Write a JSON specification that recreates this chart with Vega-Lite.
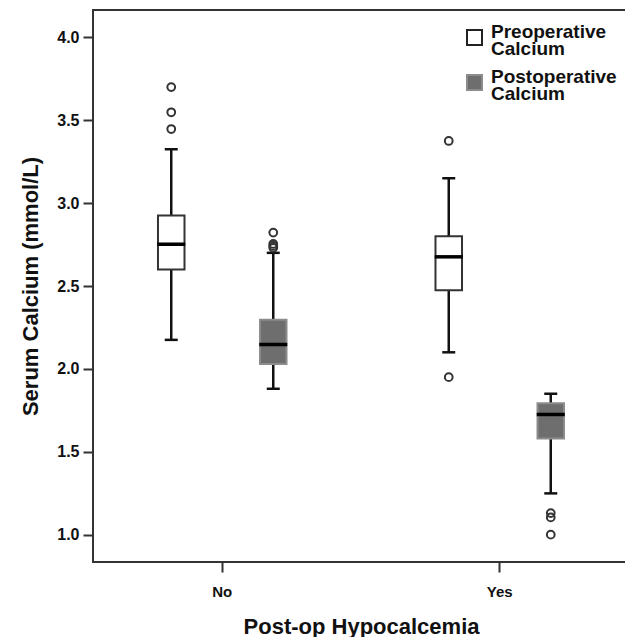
{
  "$schema": "https://vega.github.io/schema/vega-lite/v6.json",
  "autosize": {"type": "none"},
  "padding": {"left": 93, "top": 10, "right": 0, "bottom": 75},
  "width": 536,
  "height": 552,
  "background": "white",
  "config": {
    "font": "Liberation Sans",
    "view": {"stroke": "#333333", "strokeWidth": 2},
    "axis": {"labelFont": "Liberation Sans", "titleFont": "Liberation Sans", "labelFontWeight": "bold", "titleFontWeight": "bold", "labelColor": "#111", "titleColor": "#111", "grid": false, "domain": false, "tickColor": "#333", "tickWidth": 2, "tickSize": 10},
    "legend": {"labelFont": "Liberation Sans", "labelFontWeight": "bold"}
  },
  "datasets": {
    "boxes": [
      {"group": "No", "type": "Preoperative Calcium", "lower": 2.175, "q1": 2.6, "median": 2.752, "q3": 2.925, "upper": 3.325},
      {"group": "No", "type": "Postoperative Calcium", "lower": 1.88, "q1": 2.03, "median": 2.147, "q3": 2.296, "upper": 2.7},
      {"group": "Yes", "type": "Preoperative Calcium", "lower": 2.1, "q1": 2.475, "median": 2.676, "q3": 2.8, "upper": 3.15},
      {"group": "Yes", "type": "Postoperative Calcium", "lower": 1.249, "q1": 1.58, "median": 1.725, "q3": 1.792, "upper": 1.85}
    ],
    "outliers": [
      {"group": "No", "type": "Preoperative Calcium", "value": 3.7},
      {"group": "No", "type": "Preoperative Calcium", "value": 3.548},
      {"group": "No", "type": "Preoperative Calcium", "value": 3.447},
      {"group": "No", "type": "Postoperative Calcium", "value": 2.822},
      {"group": "No", "type": "Postoperative Calcium", "value": 2.754},
      {"group": "No", "type": "Postoperative Calcium", "value": 2.742},
      {"group": "No", "type": "Postoperative Calcium", "value": 2.73},
      {"group": "Yes", "type": "Preoperative Calcium", "value": 3.375},
      {"group": "Yes", "type": "Preoperative Calcium", "value": 1.95},
      {"group": "Yes", "type": "Postoperative Calcium", "value": 1.13},
      {"group": "Yes", "type": "Postoperative Calcium", "value": 1.104},
      {"group": "Yes", "type": "Postoperative Calcium", "value": 1.0}
    ]
  },
  "encoding": {
    "x": {"field": "group", "type": "nominal", "scale": {"paddingInner": 0.0685, "paddingOuter": 0},
      "axis": {"title": "Post-op Hypocalcemia", "labelAngle": 0, "labelFontSize": 15, "labelPadding": 12, "titleFontSize": 22, "titlePadding": 17}},
    "xOffset": {"field": "type", "type": "nominal", "sort": ["Preoperative Calcium", "Postoperative Calcium"], "scale": {"paddingInner": 0.74, "paddingOuter": 0.637}}
  },
  "layer": [
    {
      "data": {"name": "boxes"},
      "mark": {"type": "rule", "color": "#111", "strokeWidth": 2.5, "opacity": 1},
      "encoding": {
        "y": {"field": "lower", "type": "quantitative", "scale": {"domain": [0.835, 4.165], "nice": false, "zero": false},
          "axis": {"title": "Serum Calcium (mmol/L)", "values": [1, 1.5, 2, 2.5, 3, 3.5, 4], "format": ".1f", "labelFontSize": 16, "labelPadding": 4, "titleFontSize": 22, "titlePadding": 14}},
        "y2": {"field": "upper"}
      }
    },
    {
      "data": {"name": "boxes"},
      "mark": {"type": "bar", "strokeWidth": 2, "opacity": 1},
      "encoding": {
        "y": {"field": "q1", "type": "quantitative"},
        "y2": {"field": "q3"},
        "fill": {"field": "type", "type": "nominal", "sort": ["Preoperative Calcium", "Postoperative Calcium"], "scale": {"range": ["#ffffff", "#6e6e6e"]},
          "legend": {"title": null, "orient": "none", "legendX": 372, "legendY": 18, "symbolType": "square", "symbolSize": 225, "symbolStrokeWidth": 2, "symbolOpacity": 1, "labelFontSize": 19, "labelOffset": 7, "labelExpr": "split(datum.label, ' ')", "labelColor": "#111", "rowPadding": 8, "padding": 0,
            "encode": {"symbols": {"update": {"stroke": [{"test": "datum.value === 'Postoperative Calcium'", "value": "#8c8c8c"}, {"value": "#222222"}]}}, "labels": {"update": {"dy": {"value": -6}, "lineHeight": {"value": 17}}}}}},
        "stroke": {"field": "type", "type": "nominal", "sort": ["Preoperative Calcium", "Postoperative Calcium"], "scale": {"range": ["#333333", "#8c8c8c"]}, "legend": null}
      }
    },
    {
      "data": {"name": "boxes"},
      "mark": {"type": "tick", "color": "#000000", "thickness": 3.5, "size": 28, "opacity": 1},
      "encoding": {"y": {"field": "median", "type": "quantitative"}}
    },
    {
      "data": {"name": "boxes"},
      "mark": {"type": "tick", "color": "#111", "thickness": 2.5, "size": 13, "opacity": 1},
      "encoding": {"y": {"field": "lower", "type": "quantitative"}}
    },
    {
      "data": {"name": "boxes"},
      "mark": {"type": "tick", "color": "#111", "thickness": 2.5, "size": 13, "opacity": 1},
      "encoding": {"y": {"field": "upper", "type": "quantitative"}}
    },
    {
      "data": {"name": "outliers"},
      "mark": {"type": "point", "shape": "circle", "filled": false, "color": "#333", "strokeWidth": 2, "size": 60, "opacity": 1},
      "encoding": {"y": {"field": "value", "type": "quantitative"}}
    }
  ]
}
